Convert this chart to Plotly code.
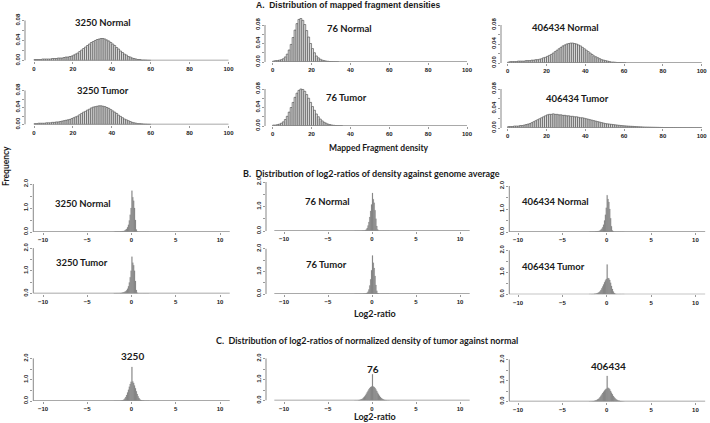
import plotly.graph_objects as go

FIG_W, FIG_H = 710, 423

# ---------------- data ----------------
# A: mapped fragment density histograms (bins of width 1 starting at 0)
density_3250_normal = [
    0.002, 0.002, 0.002, 0.002, 0.003, 0.003, 0.003, 0.003, 0.003, 0.004,
    0.004, 0.004, 0.005, 0.005, 0.005, 0.006, 0.007, 0.007, 0.008, 0.009,
    0.011, 0.013, 0.015, 0.018, 0.021, 0.024, 0.027, 0.030, 0.033, 0.036,
    0.038, 0.040, 0.042, 0.043, 0.044, 0.044, 0.043, 0.041, 0.039, 0.036,
    0.033, 0.030, 0.026, 0.023, 0.019, 0.016, 0.013, 0.011, 0.008, 0.007,
    0.005, 0.004, 0.003, 0.002, 0.002, 0.001, 0.001, 0.0008, 0.0005, 0.0004]
density_3250_tumor = [
    0.002, 0.002, 0.003, 0.003, 0.003, 0.003, 0.004, 0.004, 0.004, 0.005,
    0.005, 0.006, 0.006, 0.007, 0.008, 0.009, 0.010, 0.011, 0.012, 0.014,
    0.016, 0.018, 0.020, 0.023, 0.026, 0.029, 0.031, 0.034, 0.036, 0.039,
    0.041, 0.042, 0.043, 0.044, 0.044, 0.043, 0.042, 0.040, 0.038, 0.035,
    0.032, 0.029, 0.026, 0.022, 0.019, 0.016, 0.013, 0.011, 0.009, 0.007,
    0.005, 0.004, 0.003, 0.002, 0.002, 0.0015, 0.001, 0.0008, 0.0005, 0.0004]
density_76_normal = [
    0.002, 0.003, 0.003, 0.004, 0.005, 0.007, 0.011, 0.017, 0.026, 0.038,
    0.053, 0.069, 0.083, 0.092, 0.094, 0.090, 0.081, 0.068, 0.054, 0.040,
    0.029, 0.020, 0.013, 0.009, 0.006, 0.004, 0.003, 0.002, 0.0015, 0.001,
    0.0007, 0.0005, 0.0003, 0.0002]
density_76_tumor = [
    0.002, 0.002, 0.003, 0.004, 0.006, 0.009, 0.014, 0.021, 0.030, 0.040,
    0.051, 0.062, 0.071, 0.077, 0.080, 0.079, 0.075, 0.068, 0.060, 0.051,
    0.042, 0.034, 0.026, 0.020, 0.015, 0.011, 0.008, 0.006, 0.004, 0.003,
    0.002, 0.0015, 0.001, 0.0007, 0.0005, 0.0003]
density_406434_normal = [
    0.002, 0.003, 0.003, 0.003, 0.003, 0.004, 0.004, 0.004, 0.004, 0.005,
    0.005, 0.005, 0.006, 0.006, 0.007, 0.007, 0.008, 0.009, 0.011, 0.012,
    0.014, 0.016, 0.018, 0.021, 0.024, 0.027, 0.030, 0.033, 0.036, 0.038,
    0.040, 0.041, 0.042, 0.042, 0.041, 0.040, 0.038, 0.036, 0.033, 0.030,
    0.027, 0.024, 0.021, 0.018, 0.015, 0.013, 0.011, 0.009, 0.007, 0.006,
    0.005, 0.004, 0.003, 0.002, 0.002, 0.0015, 0.001, 0.001, 0.0007, 0.0005,
    0.0003]
density_406434_tumor = [
    0.003, 0.003, 0.003, 0.004, 0.004, 0.004, 0.005, 0.005, 0.006, 0.007,
    0.008, 0.009, 0.011, 0.013, 0.015, 0.017, 0.019, 0.021, 0.023, 0.025,
    0.027, 0.028, 0.028, 0.029, 0.028, 0.028, 0.027, 0.027, 0.026, 0.026,
    0.025, 0.025, 0.024, 0.024, 0.023, 0.023, 0.022, 0.021, 0.021, 0.020,
    0.019, 0.018, 0.017, 0.016, 0.015, 0.014, 0.013, 0.012, 0.011, 0.010,
    0.009, 0.0085, 0.008, 0.0075, 0.007, 0.0065, 0.006, 0.0055, 0.005, 0.0047,
    0.0044, 0.0041, 0.0038, 0.0035, 0.0033, 0.003, 0.0028, 0.0026, 0.0024, 0.0022,
    0.002, 0.0019, 0.0018, 0.0017, 0.0016, 0.0015, 0.0014, 0.0013, 0.0012, 0.0011,
    0.001, 0.0009, 0.0009, 0.0008, 0.0008, 0.0007, 0.0007, 0.0006, 0.0006, 0.0005,
    0.0004, 0.0004, 0.0003, 0.0003, 0.0003, 0.0002, 0.0002, 0.0002, 0.0002, 0.0002]

# B and C: log2-ratio histograms, bins of width 0.1 (left edges)
LOG2_BIN_LEFT = [-2.0, -1.9, -1.8, -1.7, -1.6, -1.5, -1.4, -1.3, -1.2, -1.1,
                 -1.0, -0.9, -0.8, -0.7, -0.6, -0.5, -0.4, -0.3, -0.2, -0.1,
                 0.0, 0.1, 0.2, 0.3, 0.4, 0.5, 0.6, 0.7, 0.8, 0.9,
                 1.0, 1.1, 1.2, 1.3, 1.4, 1.5, 1.6, 1.7, 1.8, 1.9]
ratio_3250_normal = [
    0.005, 0.006, 0.007, 0.008, 0.010, 0.012, 0.015, 0.018, 0.022, 0.028,
    0.035, 0.045, 0.065, 0.09, 0.13, 0.2, 0.3, 0.48, 0.72, 1.0,
    1.72, 1.45, 1.3, 1.0, 0.5, 0.1, 0.02, 0, 0, 0,
    0, 0, 0, 0, 0, 0, 0, 0, 0, 0]
ratio_3250_tumor = [
    0.006, 0.007, 0.008, 0.009, 0.011, 0.013, 0.016, 0.02, 0.026, 0.033,
    0.042, 0.055, 0.075, 0.1, 0.14, 0.21, 0.32, 0.48, 0.72, 1.0,
    1.62, 1.36, 1.25, 1.0, 0.55, 0.15, 0.03, 0.005, 0, 0,
    0, 0, 0, 0, 0, 0, 0, 0, 0, 0]
ratio_76_normal = [
    0.002, 0.002, 0.002, 0.003, 0.003, 0.003, 0.004, 0.004, 0.005, 0.006,
    0.008, 0.015, 0.03, 0.06, 0.12, 0.22, 0.37, 0.57, 0.82, 1.08,
    1.55, 1.3, 1.15, 0.85, 0.5, 0.2, 0.06, 0.01, 0, 0,
    0, 0, 0, 0, 0, 0, 0, 0, 0, 0]
ratio_76_tumor = [
    0.001, 0.001, 0.002, 0.002, 0.002, 0.003, 0.003, 0.004, 0.004, 0.005,
    0.006, 0.008, 0.012, 0.025, 0.05, 0.1, 0.2, 0.38, 0.65, 1.05,
    1.7, 1.38, 1.15, 0.8, 0.4, 0.14, 0.04, 0.01, 0, 0,
    0, 0, 0, 0, 0, 0, 0, 0, 0, 0]
ratio_406434_normal = [
    0.005, 0.006, 0.007, 0.008, 0.01, 0.012, 0.015, 0.018, 0.022, 0.028,
    0.036, 0.048, 0.065, 0.095, 0.14, 0.21, 0.32, 0.5, 0.75, 1.05,
    1.6, 1.43, 1.3, 1.0, 0.6, 0.25, 0.07, 0.02, 0, 0,
    0, 0, 0, 0, 0, 0, 0, 0, 0, 0]
ratio_406434_tumor = [
    0.006, 0.007, 0.008, 0.01, 0.012, 0.015, 0.02, 0.025, 0.035, 0.05,
    0.07, 0.1, 0.14, 0.2, 0.27, 0.35, 0.45, 0.55, 0.63, 0.7,
    1.35, 0.74, 0.72, 0.65, 0.52, 0.38, 0.24, 0.13, 0.06, 0.025,
    0.01, 0.005, 0, 0, 0, 0, 0, 0, 0, 0]
tn_ratio_3250 = [
    0, 0, 0, 0, 0, 0, 0.002, 0.005, 0.01, 0.02,
    0.04, 0.07, 0.12, 0.19, 0.28, 0.4, 0.53, 0.67, 0.8, 0.9,
    1.6, 0.92, 0.85, 0.73, 0.6, 0.46, 0.33, 0.22, 0.14, 0.08,
    0.045, 0.025, 0.012, 0.006, 0.003, 0, 0, 0, 0, 0]
tn_ratio_76 = [
    0, 0.001, 0.002, 0.005, 0.01, 0.02, 0.03, 0.05, 0.07, 0.1,
    0.14, 0.19, 0.25, 0.32, 0.39, 0.46, 0.53, 0.59, 0.64, 0.67,
    1.25, 0.67, 0.64, 0.59, 0.52, 0.45, 0.37, 0.3, 0.23, 0.17,
    0.12, 0.085, 0.06, 0.04, 0.025, 0.015, 0.008, 0.004, 0.002, 0.001]
tn_ratio_406434 = [
    0.002, 0.003, 0.005, 0.01, 0.015, 0.02, 0.03, 0.045, 0.065, 0.09,
    0.12, 0.16, 0.21, 0.27, 0.33, 0.4, 0.46, 0.52, 0.57, 0.61,
    1.22, 0.65, 0.63, 0.58, 0.5, 0.42, 0.34, 0.26, 0.2, 0.15,
    0.11, 0.08, 0.055, 0.04, 0.03, 0.02, 0.013, 0.008, 0.004, 0.002]

DENSITY_TICKS = [0, 20, 40, 60, 80, 100]
LOG2_TICKS = [-10, -5, 0, 5, 10]
DENSITY_YTICKS = [0, 0.02, 0.04, 0.06, 0.08]
DENSITY_YTEXT = ["0.00", "", "0.04", "", "0.08"]
LOG2_YTICKS = [0, 0.5, 1.0, 1.5, 2.0]
LOG2_YTEXT = ["0.0", "", "1.0", "", "2.0"]

# ---------------- layout geometry (pixels) ----------------
A_COLS = [dict(x0=34.0, s=1.945, left=25.0),
          dict(x0=272.7, s=1.943, left=265.0),
          dict(x0=507.7, s=1.94, left=501.0)]
A_ROWS = [[(60.5, 40.0), (62.0, 37.0), (63.0, 38.0)],
          [(124.5, 34.0), (126.0, 37.0), (128.0, 39.0)]]
R_COLS = [dict(x0=131.5, s=8.85, left=33.3),
          dict(x0=372.0, s=8.8, left=266.0),
          dict(x0=606.7, s=8.87, left=509.3)]
B_ROWS = [[(232.0, 24.0), (231.0, 24.5), (232.0, 23.0)],
          [(293.5, 22.7), (294.0, 22.6), (294.3, 22.0)]]
C_ROW = [(401.0, 21.3), (400.5, 21.0), (401.5, 21.0)]

panels = []
a_data = [[density_3250_normal, density_76_normal, density_406434_normal],
          [density_3250_tumor, density_76_tumor, density_406434_tumor]]
b_data = [[ratio_3250_normal, ratio_76_normal, ratio_406434_normal],
          [ratio_3250_tumor, ratio_76_tumor, ratio_406434_tumor]]
c_data = [tn_ratio_3250, tn_ratio_76, tn_ratio_406434]

for r in range(2):
    for c in range(3):
        panels.append(dict(kind="A", col=A_COLS[c], row=A_ROWS[r][c], vals=a_data[r][c]))
for r in range(2):
    for c in range(3):
        panels.append(dict(kind="B", col=R_COLS[c], row=B_ROWS[r][c], vals=b_data[r][c]))
for c in range(3):
    panels.append(dict(kind="B", col=R_COLS[c], row=C_ROW[c], vals=c_data[c]))

fig = go.Figure()
shapes = []
tickfont = dict(family="Liberation Sans", size=6, color="#222", weight="bold")

for i, p in enumerate(panels):
    n = "" if i == 0 else str(i + 1)
    col, (base, ppu) = p["col"], p["row"]
    if p["kind"] == "A":
        xs = [k + 0.5 for k in range(len(p["vals"]))]
        right = col["x0"] + 102 * col["s"]
        ytop, ymaxtick = 0.1, 0.08
        ppu_unit = ppu / 0.08
        xticks, yticks, ytext = DENSITY_TICKS, DENSITY_YTICKS, DENSITY_YTEXT
        bx0, bx1 = 0, 100
        fig.add_trace(go.Bar(x=xs, y=p["vals"], width=1, xaxis="x" + n, yaxis="y" + n,
                             marker=dict(color="#e2e2e2", line=dict(color="#4f4f4f", width=0.65)),
                             showlegend=False, hoverinfo="skip"))
    else:
        xs = [b + 0.05 for b in LOG2_BIN_LEFT]
        right = col["x0"] + 11.6 * col["s"]
        ytop, ymaxtick = 2.1, 2.0
        ppu_unit = ppu
        xticks, yticks, ytext = LOG2_TICKS, LOG2_YTICKS, LOG2_YTEXT
        bx0, bx1 = -11.1, 11.1
        fig.add_trace(go.Bar(x=xs, y=p["vals"], width=0.1, xaxis="x" + n, yaxis="y" + n,
                             marker=dict(color="#7a7a7a", line=dict(color="#8a8a8a", width=0.2)),
                             showlegend=False, hoverinfo="skip"))
    left = col["left"]
    xr = [(left - col["x0"]) / col["s"], (right - col["x0"]) / col["s"]]
    top = base - ytop * ppu_unit
    fig.layout["xaxis" + n] = dict(
        domain=[left / FIG_W, right / FIG_W], range=xr, anchor="y" + n, automargin=False,
        showgrid=False, zeroline=False, showline=False,
        tickvals=xticks, ticks="outside", ticklen=2, tickwidth=0.6, tickcolor="#555",
        tickfont=tickfont, fixedrange=True)
    fig.layout["yaxis" + n] = dict(
        domain=[1 - base / FIG_H, 1 - top / FIG_H], range=[0, ytop], anchor="x" + n,
        automargin=False, showgrid=False, zeroline=False, showline=False,
        tickvals=yticks, ticktext=ytext, ticks="outside", ticklen=2, tickwidth=0.6,
        tickcolor="#555", tickangle=-90, tickfont=tickfont, fixedrange=True)
    shapes.append(dict(type="line", xref="x" + n + " domain", yref="y" + n,
                       x0=0, x1=0, y0=0, y1=ymaxtick, line=dict(color="#555", width=0.7)))
    shapes.append(dict(type="line", xref="x" + n, yref="y" + n,
                       x0=bx0, x1=bx1, y0=0, y1=0, line=dict(color="#8c8c8c", width=1.3)))

def ann(text, px, py, size=9, family="Lato", angle=0):
    return dict(text="<b>" + text + "</b>", x=px / FIG_W, y=1 - py / FIG_H,
                xref="paper", yref="paper", showarrow=False, xanchor="center",
                yanchor="middle", textangle=angle,
                font=dict(family=family, size=size, color="#1a1a1a"))

annotations = [
    ann("A.  Distribution of mapped fragment densities", 348, 5.5, 8.5, "Liberation Sans"),
    ann("Mapped Fragment density", 379, 148, 8.5),
    ann("B.  Distribution of log2-ratios of density against genome average", 371.5, 173, 9),
    ann("Log2-ratio", 375, 313, 9),
    ann("C.  Distribution of log2-ratios of normalized density of tumor against normal", 367, 340, 9),
    ann("Log2-ratio", 375, 416, 9),
    ann("Frequency", 6, 166, 8.5, angle=-90),
    ann("3250 Normal", 103, 23, 9.5), ann("3250 Tumor", 103, 91, 9.5),
    ann("76 Normal", 349, 29, 9.5), ann("76 Tumor", 346, 97, 9.5),
    ann("406434 Normal", 565, 28, 9.5), ann("406434 Tumor", 577, 98, 9.5),
    ann("3250 Normal", 83, 203, 9.5), ann("3250 Tumor", 82, 262, 9.5),
    ann("76 Normal", 327, 201, 9.5), ann("76 Tumor", 326, 264, 9.5),
    ann("406434 Normal", 555, 201, 9.5), ann("406434 Tumor", 553, 266, 9.5),
    ann("3250", 132, 356, 10), ann("76", 373, 369, 10), ann("406434", 608, 366, 10),
]

fig.update_layout(width=FIG_W, height=FIG_H, margin=dict(l=0, r=0, t=0, b=0, autoexpand=False),
                  paper_bgcolor="white", plot_bgcolor="white", barmode="overlay",
                  bargap=0, shapes=shapes, annotations=annotations, showlegend=False)
fig.write_html("out.html", config={"displayModeBar": False, "staticPlot": True},
               post_script="document.body.style.margin='0';document.body.style.overflow='hidden';")
